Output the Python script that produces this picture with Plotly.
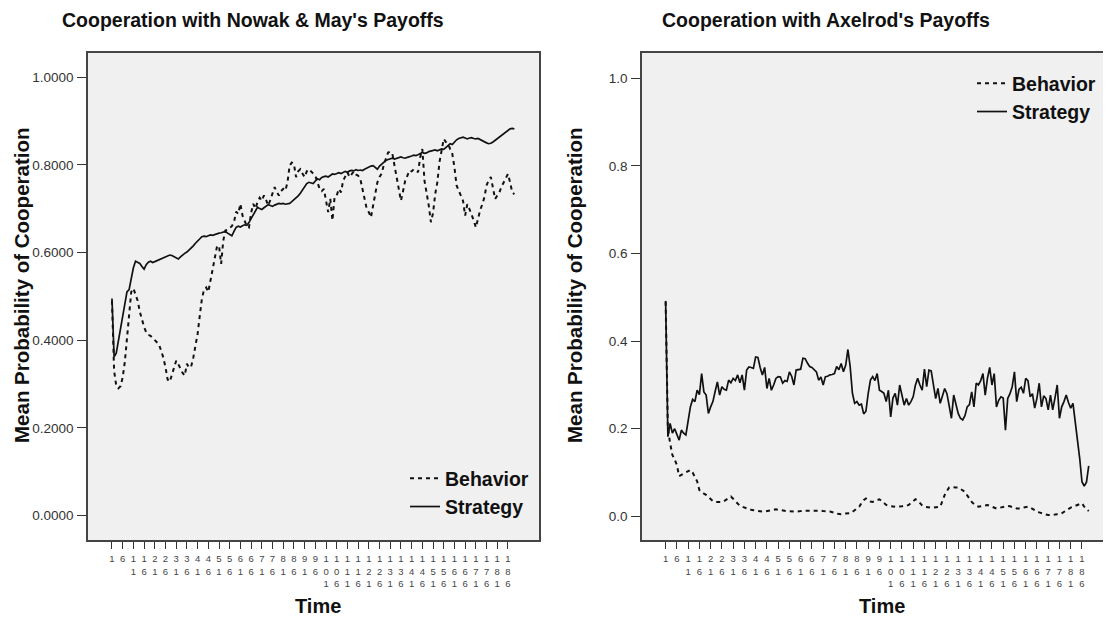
import plotly.graph_objects as go

TIME = list(range(1, 190))

# Nowak & May payoffs
NM_STRATEGY = [
    0.495, 0.362, 0.37, 0.40, 0.43, 0.46, 0.49, 0.51, 0.515, 0.54,
    0.565, 0.58, 0.578, 0.575, 0.568, 0.562, 0.572, 0.578, 0.58, 0.577,
    0.579, 0.581, 0.583, 0.585, 0.587, 0.59, 0.592, 0.594, 0.593, 0.59,
    0.587, 0.585, 0.59, 0.595, 0.598, 0.601, 0.605, 0.61, 0.615, 0.621,
    0.626, 0.632, 0.636, 0.637, 0.636, 0.638, 0.64, 0.639, 0.641, 0.643,
    0.644, 0.645, 0.646, 0.648, 0.644, 0.64, 0.638, 0.648, 0.657, 0.66,
    0.658, 0.661, 0.663, 0.662, 0.668, 0.677, 0.685, 0.695, 0.703, 0.70,
    0.698, 0.702, 0.706, 0.709, 0.707, 0.705, 0.708, 0.71, 0.712, 0.711,
    0.712, 0.71, 0.711, 0.712, 0.716, 0.72, 0.724, 0.729, 0.735, 0.742,
    0.75, 0.757, 0.76, 0.758, 0.757, 0.763, 0.768, 0.766, 0.771, 0.773,
    0.774, 0.772, 0.776, 0.779, 0.778, 0.78, 0.782, 0.78, 0.783, 0.785,
    0.783, 0.786, 0.787, 0.786, 0.789, 0.787, 0.788, 0.787, 0.79, 0.793,
    0.795, 0.797, 0.798, 0.793, 0.79, 0.797, 0.802, 0.806, 0.81, 0.812,
    0.814, 0.815, 0.813, 0.815, 0.817, 0.818, 0.816, 0.815, 0.817, 0.818,
    0.82, 0.822, 0.821, 0.823, 0.826, 0.828, 0.826, 0.827, 0.83, 0.831,
    0.832, 0.834, 0.832, 0.834, 0.836, 0.835, 0.84, 0.845, 0.848, 0.846,
    0.852, 0.857, 0.86, 0.862, 0.863, 0.861, 0.859, 0.861, 0.862, 0.86,
    0.859, 0.86, 0.857, 0.855, 0.852, 0.85, 0.848, 0.849, 0.852, 0.856,
    0.86, 0.863, 0.867, 0.871, 0.876, 0.88, 0.882, 0.883, 0.882,
]
NM_BEHAVIOR = [
    0.49, 0.33, 0.296, 0.29, 0.295, 0.315, 0.35, 0.40, 0.45, 0.51,
    0.518, 0.505, 0.49, 0.465, 0.445, 0.43, 0.418, 0.412, 0.41, 0.405,
    0.40, 0.395, 0.39, 0.375, 0.36, 0.338, 0.31, 0.305, 0.322, 0.335,
    0.353, 0.345, 0.335, 0.325, 0.319, 0.346, 0.337, 0.34, 0.36, 0.385,
    0.414, 0.455, 0.494, 0.515, 0.52, 0.51, 0.535, 0.566, 0.589, 0.612,
    0.616, 0.574, 0.627, 0.65, 0.652, 0.657, 0.66, 0.669, 0.693, 0.688,
    0.711, 0.684, 0.672, 0.66, 0.657, 0.69, 0.711, 0.70, 0.715, 0.725,
    0.718, 0.73, 0.72, 0.707, 0.72, 0.735, 0.749, 0.738, 0.73, 0.74,
    0.745, 0.741, 0.76, 0.798, 0.805, 0.802, 0.772, 0.785, 0.79, 0.78,
    0.772, 0.785, 0.79, 0.785, 0.78, 0.775, 0.76, 0.745, 0.74, 0.745,
    0.718, 0.692, 0.722, 0.673, 0.726, 0.73, 0.745, 0.737, 0.764, 0.775,
    0.783, 0.772, 0.78, 0.785, 0.778, 0.775, 0.768, 0.743, 0.718, 0.70,
    0.692, 0.68, 0.707, 0.733, 0.76, 0.772, 0.78, 0.80, 0.815, 0.828,
    0.83, 0.825, 0.798, 0.772, 0.745, 0.718, 0.74, 0.764, 0.775, 0.787,
    0.785, 0.79, 0.787, 0.783, 0.817, 0.836, 0.764, 0.737, 0.707, 0.669,
    0.69, 0.733, 0.76, 0.806, 0.832, 0.859, 0.852, 0.848, 0.836, 0.825,
    0.794, 0.753, 0.741, 0.73, 0.718, 0.684, 0.71, 0.699, 0.688, 0.673,
    0.657, 0.68, 0.696, 0.71, 0.726, 0.753, 0.765, 0.772, 0.75, 0.722,
    0.73, 0.737, 0.75, 0.76, 0.772, 0.779, 0.76, 0.737, 0.733,
]

# Axelrod payoffs
AX_STRATEGY = [
    0.492, 0.182, 0.212, 0.19, 0.20, 0.185, 0.174, 0.197, 0.19, 0.186,
    0.22, 0.25, 0.267, 0.262, 0.288, 0.278, 0.326, 0.284, 0.277, 0.235,
    0.25, 0.262, 0.285, 0.307, 0.277, 0.296, 0.29, 0.288, 0.311, 0.305,
    0.315, 0.31, 0.323, 0.305, 0.323, 0.288, 0.334, 0.341, 0.34, 0.338,
    0.364, 0.363, 0.34, 0.323, 0.34, 0.292, 0.315, 0.288, 0.30, 0.315,
    0.319, 0.318, 0.304, 0.31, 0.308, 0.33, 0.32, 0.30, 0.334, 0.335,
    0.336, 0.361, 0.36, 0.35, 0.342, 0.34, 0.335, 0.33, 0.311, 0.318,
    0.30, 0.319, 0.32, 0.323, 0.324, 0.326, 0.342, 0.335, 0.349, 0.33,
    0.345, 0.381, 0.342, 0.281, 0.258, 0.262, 0.254, 0.256, 0.234, 0.24,
    0.28, 0.311, 0.319, 0.31, 0.326, 0.288, 0.285, 0.281, 0.262, 0.288,
    0.227, 0.27, 0.281, 0.254, 0.30, 0.275, 0.254, 0.269, 0.254, 0.262,
    0.273, 0.30, 0.315, 0.30, 0.288, 0.336, 0.296, 0.334, 0.332, 0.30,
    0.269, 0.292, 0.258, 0.275, 0.292, 0.28, 0.25, 0.224, 0.277, 0.255,
    0.235, 0.224, 0.22, 0.23, 0.25, 0.255, 0.284, 0.25, 0.304, 0.30,
    0.31, 0.326, 0.277, 0.315, 0.34, 0.30, 0.326, 0.25, 0.265, 0.273,
    0.27, 0.197, 0.269, 0.28, 0.296, 0.33, 0.262, 0.29, 0.295, 0.281,
    0.315, 0.31, 0.273, 0.28, 0.247, 0.27, 0.304, 0.25, 0.275, 0.269,
    0.243, 0.277, 0.243, 0.27, 0.30, 0.224, 0.25, 0.262, 0.277, 0.26,
    0.247, 0.258, 0.22, 0.174, 0.132, 0.079, 0.069, 0.078, 0.115,
]
AX_BEHAVIOR = [
    0.49, 0.20, 0.167, 0.14, 0.13, 0.117, 0.092, 0.095, 0.098, 0.10,
    0.104, 0.106, 0.10, 0.09, 0.08, 0.06, 0.055, 0.052, 0.049, 0.044,
    0.038, 0.035, 0.033, 0.033, 0.032, 0.033, 0.035, 0.038, 0.042, 0.045,
    0.04, 0.035, 0.028, 0.024, 0.022, 0.02, 0.018, 0.016, 0.015, 0.014,
    0.013, 0.012, 0.012, 0.011, 0.011, 0.012, 0.013, 0.014, 0.015, 0.016,
    0.015, 0.014, 0.013, 0.013, 0.012, 0.012, 0.011, 0.011, 0.011, 0.011,
    0.012, 0.013, 0.013, 0.013, 0.014, 0.014, 0.014, 0.014, 0.014, 0.013,
    0.012, 0.011, 0.011, 0.011, 0.01, 0.008, 0.006, 0.005, 0.005, 0.006,
    0.006, 0.007, 0.007, 0.01, 0.014, 0.018, 0.022, 0.03, 0.037, 0.041,
    0.038, 0.034, 0.033, 0.035, 0.038, 0.039, 0.035, 0.03, 0.026, 0.024,
    0.023, 0.022, 0.022, 0.022, 0.022, 0.023, 0.024, 0.024, 0.026, 0.03,
    0.035, 0.039, 0.036, 0.03, 0.025, 0.022, 0.021, 0.02, 0.02, 0.02,
    0.021, 0.021, 0.022, 0.035, 0.049, 0.058, 0.066, 0.067, 0.066, 0.066,
    0.066, 0.063, 0.06, 0.056, 0.048, 0.04, 0.033, 0.028, 0.025, 0.022,
    0.023, 0.024, 0.025, 0.026, 0.024, 0.022, 0.02, 0.018, 0.019, 0.02,
    0.022, 0.023, 0.024, 0.023, 0.021, 0.019, 0.018, 0.018, 0.019, 0.02,
    0.021, 0.022, 0.02, 0.017, 0.013, 0.011, 0.009, 0.007, 0.005, 0.004,
    0.003, 0.003, 0.004, 0.004, 0.005, 0.005, 0.007, 0.01, 0.014, 0.018,
    0.02, 0.022, 0.024, 0.026, 0.027, 0.03, 0.022, 0.016, 0.012,
]

X_TICK_VALS = list(range(1, 187, 5))
X_TICK_TEXT = ["<br>".join(str(v)) for v in X_TICK_VALS]
Y_TICK_VALS = [0.0, 0.2, 0.4, 0.6, 0.8, 1.0]
Y_TICK_TEXT_LEFT = ["0.0000", "0.2000", "0.4000", "0.6000", "0.8000", "1.0000"]
Y_TICK_TEXT_RIGHT = ["0.0", "0.2", "0.4", "0.6", "0.8", "1.0"]

TITLES = ["Cooperation with Nowak & May's Payoffs", "Cooperation with Axelrod's Payoffs"]
Y_TITLE = "Mean Probability of Cooperation"
X_TITLE = "Time"
SERIES_NAMES = ["Behavior", "Strategy"]

# page is offset by the 8px body margin
OFF = 8
W, H = 1111 - OFF, 623 - OFF
FONT = "Liberation Sans, Arial, sans-serif"
DASH = "4px,4px"

fig = go.Figure()
fig.add_trace(go.Scatter(x=TIME, y=NM_BEHAVIOR, mode="lines", name=SERIES_NAMES[0],
                         line=dict(color="#111", width=2, dash=DASH), xaxis="x", yaxis="y", legend="legend"))
fig.add_trace(go.Scatter(x=TIME, y=NM_STRATEGY, mode="lines", name=SERIES_NAMES[1],
                         line=dict(color="#111", width=1.7), xaxis="x", yaxis="y", legend="legend"))
fig.add_trace(go.Scatter(x=TIME, y=AX_BEHAVIOR, mode="lines", name=SERIES_NAMES[0],
                         line=dict(color="#111", width=2, dash=DASH), xaxis="x2", yaxis="y2", legend="legend2"))
fig.add_trace(go.Scatter(x=TIME, y=AX_STRATEGY, mode="lines", name=SERIES_NAMES[1],
                         line=dict(color="#111", width=1.7), xaxis="x2", yaxis="y2", legend="legend2"))


def px(x):
    return (x - OFF) / W


def py(y):
    return 1 - (y - OFF) / H


xcommon = dict(tickmode="array", tickvals=X_TICK_VALS, ticktext=X_TICK_TEXT,
               ticks="outside", ticklen=7, tickwidth=1.3, tickcolor="#333",
               ticklabelstandoff=2,
               tickfont=dict(size=9.5, color="#444", family=FONT),
               showline=True, linecolor="#444", linewidth=1.5, mirror=True,
               showgrid=False, zeroline=False, automargin=False, tickangle=0)
ycommon = dict(tickmode="array", tickvals=Y_TICK_VALS,
               ticks="outside", ticklen=9, tickwidth=1.3, tickcolor="#333",
               ticklabelstandoff=1,
               tickfont=dict(size=13.5, color="#333", family=FONT),
               showline=True, linecolor="#444", linewidth=1.5, mirror=True,
               showgrid=False, zeroline=False, automargin=False)

LEGEND_FONT = dict(size=19.5, family=FONT, color="#111", weight="bold")

fig.update_layout(
    width=W, height=H,
    margin=dict(l=0, r=0, t=0, b=0),
    paper_bgcolor="white",
    plot_bgcolor="#f0f0f0",
    font=dict(family=FONT, color="#111"),
    xaxis=dict(domain=[px(88), px(539)], range=[-10.2, 200.5], anchor="y", **xcommon),
    yaxis=dict(domain=[py(540), py(53)], range=[-0.056, 1.055], anchor="x",
               ticktext=Y_TICK_TEXT_LEFT, **ycommon),
    xaxis2=dict(domain=[px(642), 1.0], range=[-9.5, 198.9], anchor="y2", **xcommon),
    yaxis2=dict(domain=[py(540), py(53)], range=[-0.054, 1.058], anchor="x2",
                ticktext=Y_TICK_TEXT_RIGHT, **ycommon),
    legend=dict(x=px(534), y=py(526), xanchor="right", yanchor="bottom",
                bgcolor="rgba(0,0,0,0)", font=LEGEND_FONT,
                itemwidth=30, tracegroupgap=0, traceorder="normal"),
    legend2=dict(x=px(1101), y=py(64), xanchor="right", yanchor="top",
                 bgcolor="rgba(0,0,0,0)", font=LEGEND_FONT,
                 itemwidth=30, tracegroupgap=0, traceorder="normal"),
)

ann = [
    dict(text=f"<b>{TITLES[0]}</b>", x=px(60), y=py(20), xanchor="left", yanchor="middle", size=19.5),
    dict(text=f"<b>{TITLES[1]}</b>", x=px(660), y=py(20), xanchor="left", yanchor="middle", size=19.5),
    dict(text=f"<b>{Y_TITLE}</b>", x=px(21), y=py(285), textangle=-90, xanchor="center", yanchor="middle", size=20.5),
    dict(text=f"<b>{Y_TITLE}</b>", x=px(574), y=py(285), textangle=-90, xanchor="center", yanchor="middle", size=20.5),
    dict(text=f"<b>{X_TITLE}</b>", x=px(318), y=py(606), xanchor="center", yanchor="middle", size=20),
    dict(text=f"<b>{X_TITLE}</b>", x=px(882), y=py(606), xanchor="center", yanchor="middle", size=20),
]
for a in ann:
    size = a.pop("size")
    a.update(xref="paper", yref="paper", showarrow=False,
             font=dict(family=FONT, color="#111", size=size))
fig.update_layout(annotations=ann)

fig.write_html("out.html")
